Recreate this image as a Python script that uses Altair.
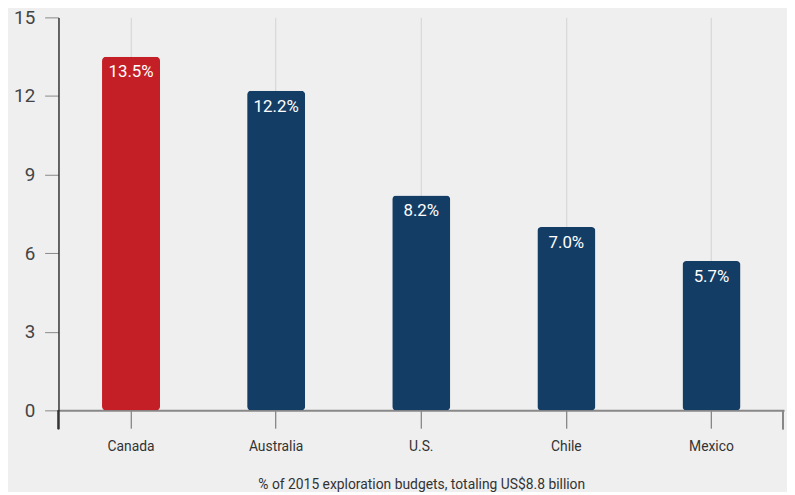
import altair as alt
import pandas as pd

countries = ["Canada", "Australia", "U.S.", "Chile", "Mexico"]
shares = [13.5, 12.2, 8.2, 7.0, 5.7]
y_ticks = [0, 3, 6, 9, 12, 15]

df = pd.DataFrame({"country": countries, "share": shares})
df["label"] = [f"{v:.1f}%" for v in shares]

FONT = "Roboto"

x = alt.X("country:N", sort=countries,
          scale=alt.Scale(paddingInner=0.6, paddingOuter=0.3),
          axis=alt.Axis(title="% of 2015 exploration budgets, totaling US$8.8 billion",
                        labelAngle=0, labelFont=FONT, labelFontSize=14, labelColor="#333",
                        labelPadding=12, tickSize=18, tickColor="#666", domainColor="#888",
                        domainWidth=2, grid=True, gridColor="#d2d2d2", titleFont=FONT,
                        titleFontSize=14, titleFontWeight="normal", titleColor="#333",
                        titlePadding=24))
y = alt.Y("share:Q", scale=alt.Scale(domain=[0, 15], nice=False),
          axis=alt.Axis(title=None, values=y_ticks, grid=False, labelFont=FONT,
                        labelFontSize=19, labelColor="#444", labelPadding=10,
                        tickSize=14, tickColor="#888", domainColor="#333", domainWidth=1.5))

bars = alt.Chart(df).mark_bar(cornerRadius=4).encode(
    x=x, y=y,
    color=alt.condition(alt.datum.country == "Canada", alt.value("#c41f27"), alt.value("#143d66")),
)

text = alt.Chart(df).mark_text(baseline="top", dy=8, color="white", font=FONT, fontSize=17).encode(
    x=alt.X("country:N", sort=countries), y="share:Q", text="label:N"
)

left_ext = alt.Chart(df).mark_rule(color="#333", strokeWidth=1.5).encode(
    x=alt.value(0), y=alt.value(397), y2=alt.value(416)
)
right_ext = alt.Chart(df).mark_rule(color="#888", strokeWidth=1.5).encode(
    x=alt.value(732), y=alt.value(397), y2=alt.value(416)
)

chart = alt.layer(bars, text, left_ext, right_ext).properties(
    width=733, height=397,
    padding={"left": 51, "top": 7, "right": 3, "bottom": 80},
    autosize=alt.AutoSizeParams(type="none"),
    background="#efefef",
).configure_view(stroke=None)

chart.save("out.html", embed_options={"renderer": "svg", "actions": False})
